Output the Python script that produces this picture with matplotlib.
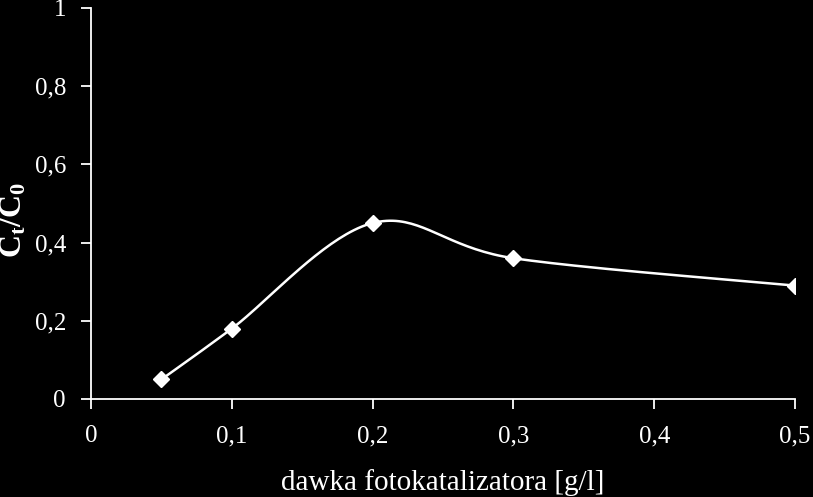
import numpy as np
import matplotlib.pyplot as plt

dawka = [0.05, 0.1, 0.2, 0.3, 0.5]
ct_c0 = [0.05, 0.18, 0.45, 0.36, 0.29]

x_ticks = [0, 0.1, 0.2, 0.3, 0.4, 0.5]
x_labels = ['0', '0,1', '0,2', '0,3', '0,4', '0,5']
y_ticks = [0, 0.2, 0.4, 0.6, 0.8, 1]
y_labels = ['0', '0,2', '0,4', '0,6', '0,8', '1']


def smooth(xs, ys, n=40):
    '''Excel-like smoothed line: cubic bezier with catmull-rom control points'''
    p = np.column_stack([xs, ys])
    out = []
    for i in range(len(p) - 1):
        p0 = p[i - 1] if i > 0 else p[i]
        p1 = p[i]
        p2 = p[i + 1]
        p3 = p[i + 2] if i + 2 < len(p) else p[i + 1]
        c1 = p1 + (p2 - p0) / 6
        c2 = p2 - (p3 - p1) / 6
        t = np.linspace(0, 1, n)[:, None]
        seg = (1 - t)**3 * p1 + 3 * (1 - t)**2 * t * c1 + 3 * (1 - t) * t**2 * c2 + t**3 * p2
        out.append(seg)
    out = np.vstack(out)
    return out[:, 0], out[:, 1]


plt.rcParams['font.family'] = ['Liberation Serif', 'DejaVu Serif']
plt.rcParams['mathtext.fontset'] = 'custom'
plt.rcParams['mathtext.rm'] = 'Liberation Serif'
plt.rcParams['mathtext.bf'] = 'Liberation Serif:bold'
plt.rcParams['mathtext.it'] = 'Liberation Serif:italic'

fig = plt.figure(figsize=(8.13, 4.97), dpi=100, facecolor='black')
ax = fig.add_axes([0.1119, 0.1972, 0.978 - 0.1119, 0.984 - 0.1972])
ax.set_facecolor('black')

sx, sy = smooth(dawka, ct_c0)
ax.plot(sx, sy, color='white', lw=1.8)
ax.plot(dawka, ct_c0, ls='none', marker='D', ms=8, color='white')

ax.set_xlim(0, 0.5)
ax.set_ylim(0, 1)
ax.set_xticks(x_ticks)
ax.set_xticklabels(x_labels)
ax.set_yticks(y_ticks)
ax.set_yticklabels(y_labels)

for s in ['top', 'right']:
    ax.spines[s].set_visible(False)
for s in ['left', 'bottom']:
    ax.spines[s].set_color('white')
    ax.spines[s].set_linewidth(1.3)
ax.tick_params(colors='white', labelsize=18, length=7, width=1.3, direction='out')
ax.tick_params(axis='x', pad=12)
ax.tick_params(axis='y', pad=11)

fig.text(443 / 813, 1 - 483 / 497, 'dawka fotokatalizatora [g/l]', color='white',
         fontsize=21, ha='center', va='center')
fig.text(14 / 813, 1 - 220 / 497, r'$\mathbf{C}_{\mathbf{t}}\mathbf{/C}_{\mathbf{0}}$',
         color='white', fontsize=23, rotation=90, ha='center', va='center')

fig.savefig('out.png', dpi=100, facecolor='black')
